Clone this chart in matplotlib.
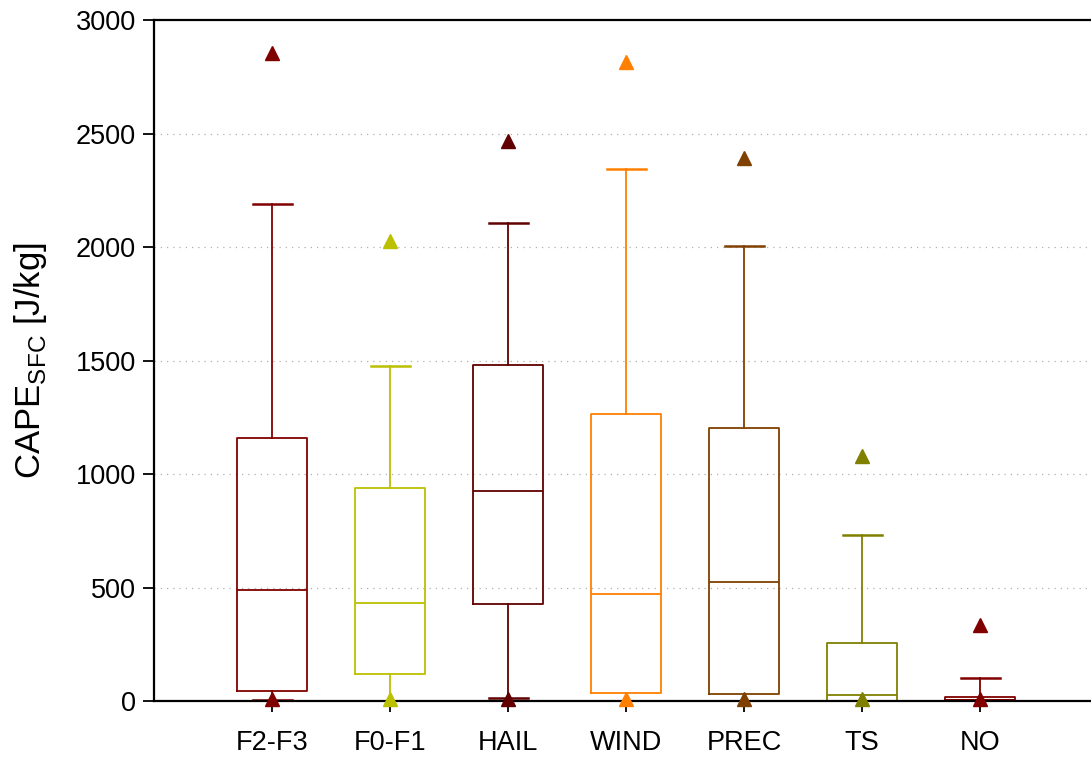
import matplotlib
matplotlib.use("Agg")
import matplotlib.pyplot as plt

# Box statistics (CAPE_SFC, J/kg)
categories = ["F2-F3", "F0-F1", "HAIL", "WIND", "PREC", "TS", "NO"]
whisker_lo = [3, 0, 15, 0, 0, 0, 0]
q1 = [44, 117, 427, 37, 29, 0, 3]
median = [489, 430, 926, 471, 526, 28, 6]
q3 = [1159, 937, 1480, 1263, 1204, 254, 18]
whisker_hi = [2189, 1476, 2107, 2345, 2006, 733, 103]
max_vals = [2857, 2026, 2469, 2818, 2393, 1082, 333]
min_vals = [8, 8, 10, 8, 8, 8, 8]
colors = ["#800000", "#bbc000", "#600000", "#ff8000", "#804000", "#808000", "#800000"]

plt.rcParams['font.family'] = ['Liberation Sans', 'DejaVu Sans']

fig = plt.figure(figsize=(10.91, 7.58), dpi=100)
ax = fig.add_axes([0.1412, 0.0752, 0.8588, 0.8978])

positions = list(range(1, len(categories) + 1))
for i, pos in enumerate(positions):
    stats = [{
        "med": median[i], "q1": q1[i], "q3": q3[i],
        "whislo": whisker_lo[i], "whishi": whisker_hi[i], "fliers": [],
    }]
    c = colors[i]
    ax.bxp(stats, positions=[pos], widths=0.6, showfliers=False,
           boxprops=dict(color=c, linewidth=1.3),
           medianprops=dict(color=c, linewidth=1.3),
           whiskerprops=dict(color=c, linewidth=1.3),
           capprops=dict(color=c, linewidth=1.8),
           capwidths=0.33)
    ax.plot([pos, pos], [max_vals[i], min_vals[i]], linestyle="none",
            marker="^", markersize=9.5, color=c, clip_on=False, zorder=5)

ax.set_xlim(0, 7.94)
ax.set_ylim(0, 3000)
ax.set_yticks([0, 500, 1000, 1500, 2000, 2500, 3000])
ax.set_xticks(positions)
ax.set_xticklabels(categories)

for y in [500, 1000, 1500, 2000, 2500]:
    ax.axhline(y, color="#b0b0b0", linestyle=(0, (1, 4)), linewidth=0.9, zorder=0)

ax.spines["right"].set_visible(False)
for s in ["left", "bottom", "top"]:
    ax.spines[s].set_linewidth(1.6)
    ax.spines[s].set_zorder(4)

ax.tick_params(axis="both", direction="out", length=8, width=1.3, labelsize=19.5)
ax.tick_params(axis="x", pad=13)
ax.tick_params(axis="y", pad=5)

# y label placed in figure coords (the reference uses a condensed face)
fig.text(31 / 1091, 1 - 361 / 758, r"CAPE$_{\mathregular{SFC}}$ [J/kg]",
         rotation=90, ha="center", va="center", fontsize=25)

fig.savefig("out.png", dpi=100)
